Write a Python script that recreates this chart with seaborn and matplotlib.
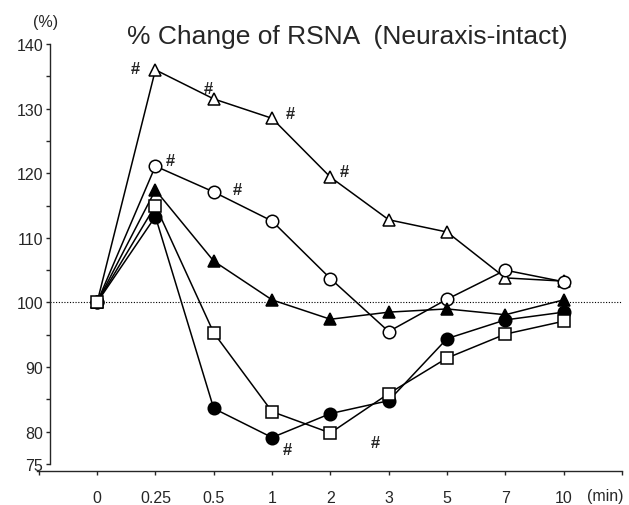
import matplotlib
matplotlib.use("Agg")
import matplotlib.pyplot as plt
import seaborn as sns
import pandas as pd
import numpy as np

# ---- data ----
time_labels = ["0", "0.25", "0.5", "1", "2", "3", "5", "7", "10"]
open_triangle = [100, 136.0, 131.5, 128.5, 119.4, 112.8, 110.9, 103.8, 103.3]
open_circle = [100, 121.1, 117.1, 112.6, 103.7, 95.5, 100.5, 105.0, 103.2]
filled_triangle = [100, 117.4, 106.4, 100.4, 97.4, 98.5, 99.0, 98.1, 100.4]
filled_circle = [100, 113.3, 83.6, 79.1, 82.8, 84.8, 94.4, 97.3, 98.5]
open_square = [100, 115.0, 95.3, 83.1, 79.8, 85.9, 91.4, 95.1, 97.1]

# significance marks: (category position, value)
hash_marks = [(0.65, 136.2), (1.90, 133.1), (3.31, 129.2), (4.24, 120.2),
              (1.25, 122.0), (2.40, 117.5), (3.26, 77.2), (4.77, 78.4)]

y_ticks = list(range(75, 141, 5))
y_labeled = [75, 80, 90, 100, 110, 120, 130, 140]

sns.set_style("ticks")
plt.rcParams["font.family"] = ["Liberation Sans", "DejaVu Sans"]

W, H = 629, 506
fig = plt.figure(figsize=(W / 100, H / 100), dpi=100)
ax = fig.add_axes([37 / W, 41 / H, (622 - 37) / W, (465 - 45) / H])

pos = np.arange(len(time_labels))
series = [
    ("open_triangle", open_triangle, "^", "white"),
    ("open_circle", open_circle, "o", "white"),
    ("filled_triangle", filled_triangle, "^", "black"),
    ("filled_circle", filled_circle, "o", "black"),
    ("open_square", open_square, "s", "white"),
]
for name, vals, mk, fc in series:
    df = pd.DataFrame({"t": pos, "v": vals})
    sns.lineplot(data=df, x="t", y="v", ax=ax, color="black", linewidth=1.1,
                 marker=mk, markersize=9 if mk != "s" else 8,
                 markerfacecolor=fc, markeredgecolor="black", markeredgewidth=1.1)

left_x = -0.806
ax.hlines(100, left_x, 9.0, colors="black", linestyles=(0, (1, 1.5)), linewidth=0.8, zorder=1)

for xh, yh in hash_marks:
    ax.text(xh, yh, "#", ha="center", va="center", fontsize=12, fontweight="bold")

ax.set_xlim(-1.03, 9.0)
ax.set_ylim(75, 140)
ax.spines["top"].set_visible(False)
ax.spines["right"].set_visible(False)
ax.spines["left"].set_position(("data", left_x))
ax.spines["bottom"].set_position(("outward", 5))
for s in ("left", "bottom"):
    ax.spines[s].set_linewidth(1.0)

ax.set_xticks(np.arange(-1, 10))
ax.set_xticklabels([""] + time_labels + [""])
ax.set_yticks(y_ticks)
ax.set_yticklabels([str(t) if t in y_labeled else "" for t in y_ticks])
ax.tick_params(axis="x", length=3, width=1, pad=11, labelsize=11.5, direction="out")
ax.tick_params(axis="y", length=3, width=1, pad=2, labelsize=11.5, direction="out")
ax.set_xlabel("")
ax.set_ylabel("")

fig.text(605 / W, 1 - 497 / H, "(min)", ha="center", va="center", fontsize=11.5)
fig.text(46 / W, 1 - 23 / H, "(%)", ha="center", va="center", fontsize=11.5)
fig.text(347 / W, 1 - 37 / H, "% Change of RSNA  (Neuraxis-intact)",
         ha="center", va="center", fontsize=19)

fig.savefig("out.png", dpi=100)
